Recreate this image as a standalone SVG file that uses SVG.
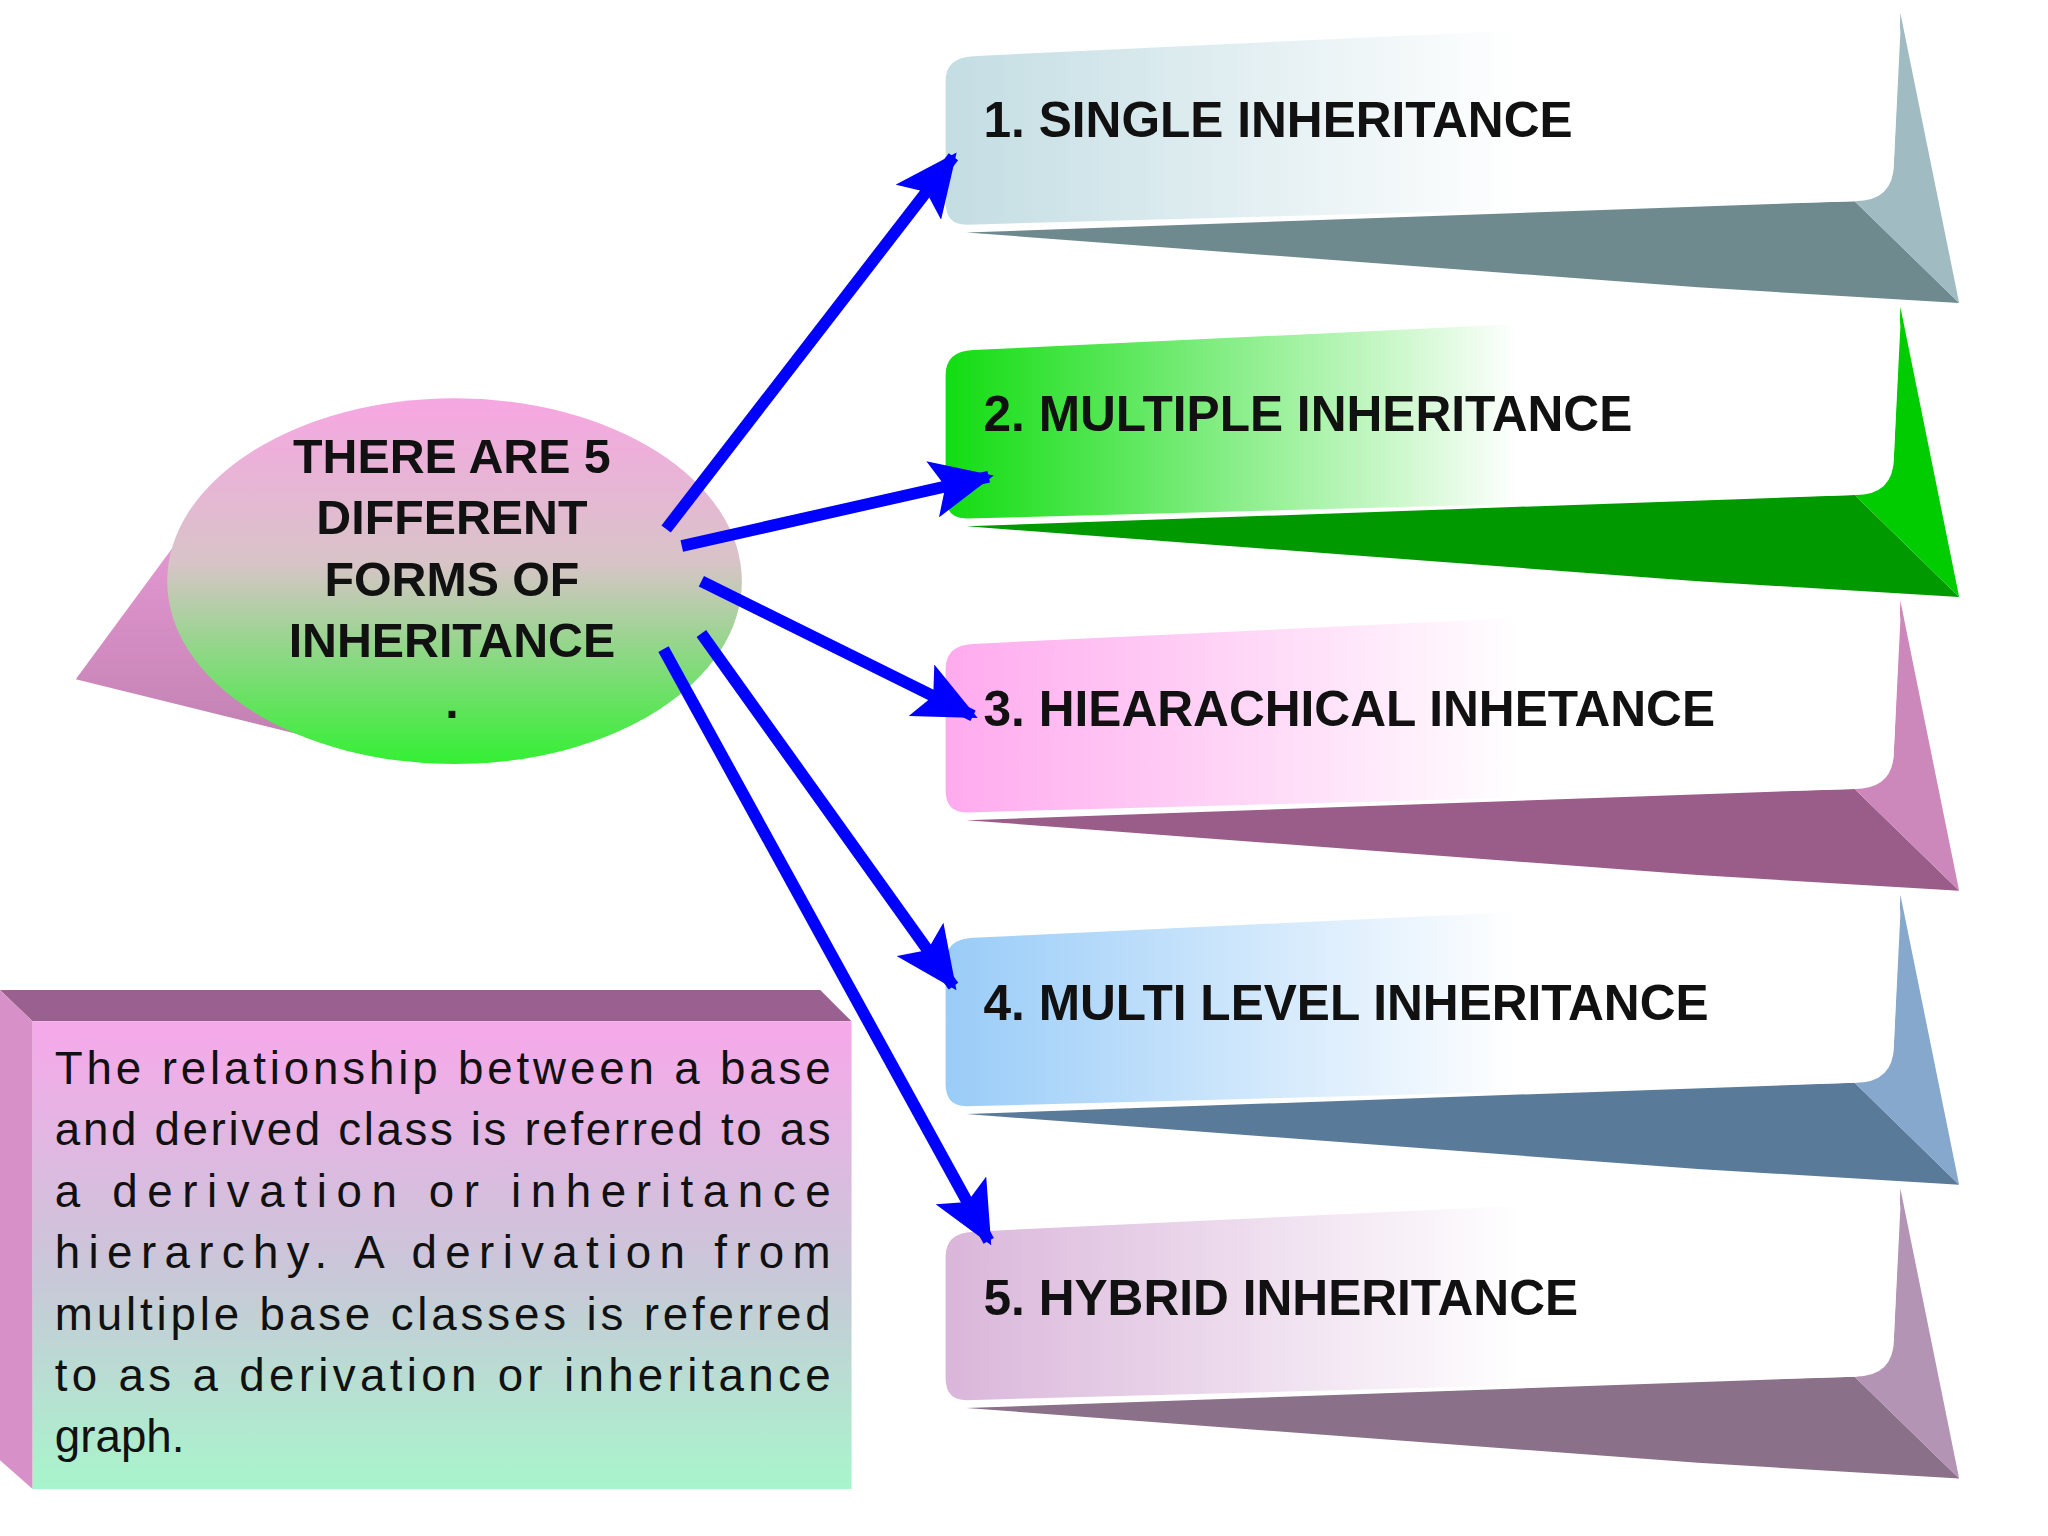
<svg xmlns="http://www.w3.org/2000/svg" width="2048" height="1536" viewBox="0 0 2048 1536">
<defs>
<style>
.bt{font-family:"Liberation Sans",Arial,sans-serif;font-weight:bold;font-size:38px;fill:#111}
.ct{font-family:"Liberation Sans",Arial,sans-serif;font-weight:bold;font-size:37px;fill:#111;text-anchor:middle}
.pt{font-family:"Liberation Sans",Arial,sans-serif;font-size:35px;fill:#111}
.ar{stroke:#0000ff;stroke-width:9;fill:none;marker-end:url(#ah)}
</style>
<marker id="ah" markerUnits="userSpaceOnUse" markerWidth="50" markerHeight="44" refX="44" refY="22" orient="auto"><path d="M0,0 L48,22 L0,44 L10,22 Z" fill="#0000ff"/></marker>
<linearGradient id="g1" x1="0" x2="1"><stop offset="0" stop-color="#c3dde3"/><stop offset="0.6" stop-color="#ffffff"/></linearGradient>
<linearGradient id="g2" x1="0" x2="1"><stop offset="0" stop-color="#11dd11"/><stop offset="0.6" stop-color="#ffffff"/></linearGradient>
<linearGradient id="g3" x1="0" x2="1"><stop offset="0" stop-color="#ffaaee"/><stop offset="0.6" stop-color="#ffffff"/></linearGradient>
<linearGradient id="g4" x1="0" x2="1"><stop offset="0" stop-color="#99ccf8"/><stop offset="0.6" stop-color="#ffffff"/></linearGradient>
<linearGradient id="g5" x1="0" x2="1"><stop offset="0" stop-color="#dab6da"/><stop offset="0.6" stop-color="#ffffff"/></linearGradient>
<linearGradient id="ge" x1="0" y1="0" x2="0" y2="1"><stop offset="0" stop-color="#f7a6e2"/><stop offset="0.45" stop-color="#d8c4c8"/><stop offset="1" stop-color="#33f033"/></linearGradient>
<linearGradient id="gc" x1="0" y1="0" x2="0" y2="1"><stop offset="0" stop-color="#e89ad6"/><stop offset="1" stop-color="#c080b0"/></linearGradient>
<linearGradient id="gb" x1="0" y1="0" x2="0" y2="1"><stop offset="0" stop-color="#f7a8ea"/><stop offset="0.55" stop-color="#c8c8d8"/><stop offset="1" stop-color="#a8f5cc"/></linearGradient>
<g id="ban">
<path d="M724,170 L1420,152 L1500,232 L1300,222 Z"/>
<path d="M1455,10 L1500,232 L1420,152 Q1450,150 1450,120 Z"/>
</g>
</defs>
<g transform="scale(1.3061)">
<g id="b1">
<path d="M740,178 L1420,154 L1500,232 L1300,220 Z" fill="#6f8a8f"/>
<path d="M1455,10 L1500,232 L1420,154 Q1450,150 1450,125 Z" fill="#a0bcc2"/>
<path d="M745,43 L1440,10 Q1455,10 1455,25 L1450,125 Q1450,154 1420,154 L740,172 Q724,172 724,155 L724,62 Q724,44 745,43 Z" fill="url(#g1)"/>
<text class="bt" x="753" y="105">1. SINGLE INHERITANCE</text>
</g>
<g id="b2">
<path d="M740,403 L1420,379 L1500,457 L1300,445 Z" fill="#009a00"/>
<path d="M1455,235 L1500,457 L1420,379 Q1450,375 1450,350 Z" fill="#00cc00"/>
<path d="M745,268 L1440,235 Q1455,235 1455,250 L1450,350 Q1450,379 1420,379 L740,397 Q724,397 724,380 L724,287 Q724,269 745,268 Z" fill="url(#g2)"/>
<text class="bt" x="753" y="330">2. MULTIPLE INHERITANCE</text>
</g>
<g id="b3">
<path d="M740,628 L1420,604 L1500,682 L1300,670 Z" fill="#9a5c88"/>
<path d="M1455,460 L1500,682 L1420,604 Q1450,600 1450,575 Z" fill="#cc88bb"/>
<path d="M745,493 L1440,460 Q1455,460 1455,475 L1450,575 Q1450,604 1420,604 L740,622 Q724,622 724,605 L724,512 Q724,494 745,493 Z" fill="url(#g3)"/>
<text class="bt" x="753" y="556">3. HIEARACHICAL INHETANCE</text>
</g>
<g id="b4">
<path d="M740,853 L1420,829 L1500,907 L1300,895 Z" fill="#5a7a99"/>
<path d="M1455,685 L1500,907 L1420,829 Q1450,825 1450,800 Z" fill="#86a8cc"/>
<path d="M745,718 L1440,685 Q1455,685 1455,700 L1450,800 Q1450,829 1420,829 L740,847 Q724,847 724,830 L724,737 Q724,719 745,718 Z" fill="url(#g4)"/>
<text class="bt" x="753" y="781">4. MULTI LEVEL INHERITANCE</text>
</g>
<g id="b5">
<path d="M740,1078 L1420,1054 L1500,1132 L1300,1120 Z" fill="#8a7088"/>
<path d="M1455,910 L1500,1132 L1420,1054 Q1450,1050 1450,1025 Z" fill="#b494b4"/>
<path d="M745,943 L1440,910 Q1455,910 1455,925 L1450,1025 Q1450,1054 1420,1054 L740,1072 Q724,1072 724,1055 L724,962 Q724,944 745,943 Z" fill="url(#g5)"/>
<text class="bt" x="753" y="1007">5. HYBRID INHERITANCE</text>
</g>
<g id="center">
<path d="M58,520 L150,395 L280,575 Z" fill="url(#gc)"/>
<ellipse cx="348" cy="445" rx="220" ry="140" fill="url(#ge)"/>
<text class="ct" x="346" y="362">THERE ARE 5</text>
<text class="ct" x="346" y="409">DIFFERENT</text>
<text class="ct" x="346" y="456">FORMS OF</text>
<text class="ct" x="346" y="503">INHERITANCE</text>
<text class="ct" x="346" y="550">.</text>
</g>
<g id="desc">
<path d="M0,758 L628,758 L652,782 L25,782 Z" fill="#9a6090"/>
<path d="M0,758 L25,782 L25,1140 L0,1118 Z" fill="#d890c8"/>
<rect x="25" y="782" width="627" height="358" fill="url(#gb)"/>
<text class="pt" x="42" y="830" textLength="594" lengthAdjust="spacing">The relationship between a base</text>
<text class="pt" x="42" y="877" textLength="594" lengthAdjust="spacing">and derived class is referred to as</text>
<text class="pt" x="42" y="924" textLength="594" lengthAdjust="spacing">a derivation or inheritance</text>
<text class="pt" x="42" y="971" textLength="594" lengthAdjust="spacing">hierarchy. A derivation from</text>
<text class="pt" x="42" y="1018" textLength="594" lengthAdjust="spacing">multiple base classes is referred</text>
<text class="pt" x="42" y="1065" textLength="594" lengthAdjust="spacing">to as a derivation or inheritance</text>
<text class="pt" x="42" y="1112">graph.</text>
</g>
<g id="connectors">
<line class="ar" x1="510" y1="405" x2="730" y2="120"/>
<line class="ar" x1="522" y1="418" x2="757" y2="365"/>
<line class="ar" x1="537" y1="445" x2="745" y2="548"/>
<line class="ar" x1="537" y1="485" x2="730" y2="755"/>
<line class="ar" x1="508" y1="497" x2="757" y2="950"/>
</g>
</g>
</svg>
